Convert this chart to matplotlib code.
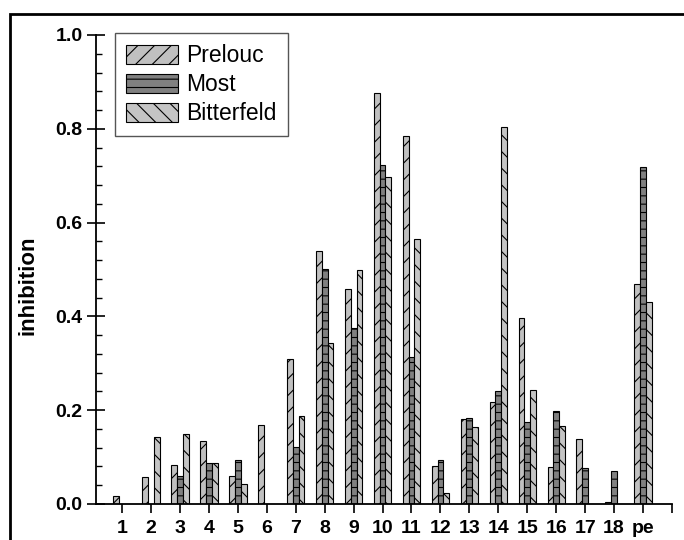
import matplotlib.pyplot as plt
import numpy as np
from matplotlib.patches import Rectangle
from matplotlib.ticker import MultipleLocator, FormatStrFormatter

plt.rcParams["font.family"] = ["Liberation Sans", "DejaVu Sans"]
plt.rcParams["hatch.linewidth"] = 0.8

# sample sites on the x axis
samples = [str(i) for i in range(1, 19)] + ["pe"]

# inhibition per site
prelouc = [0.016, 0.058, 0.083, 0.135, 0.059, 0.168, 0.309, 0.540, 0.459, 0.877,
           0.785, 0.080, 0.181, 0.217, 0.397, 0.078, 0.139, 0.005, 0.470]
most = [0.0, 0.0, 0.059, 0.087, 0.093, 0.0, 0.122, 0.501, 0.375, 0.723,
        0.314, 0.093, 0.183, 0.241, 0.175, 0.198, 0.076, 0.070, 0.719]
bitterfeld = [0.0, 0.142, 0.150, 0.087, 0.042, 0.0, 0.188, 0.344, 0.499, 0.697,
              0.566, 0.023, 0.164, 0.804, 0.243, 0.166, 0.0, 0.0, 0.430]

fig = plt.figure(figsize=(6.84, 5.4), dpi=100)
ax = fig.add_axes((96 / 684, 36 / 540, 576 / 684, 469 / 540))

x = np.arange(1, len(samples) + 1)
w = 0.2
series = [
    ("Prelouc", prelouc, "#c0c0c0", "//"),
    ("Most", most, "#808080", "--"),
    ("Bitterfeld", bitterfeld, "#c4c4c4", "\\\\"),
]
for k, (name, vals, color, hatch) in enumerate(series):
    ax.bar(x + (k - 1) * w, vals, width=w, color=color, edgecolor="black",
           linewidth=0.8, hatch=hatch, label=name, zorder=2)

ax.set_xlim(0.1, 20)
ax.set_ylim(0, 1.0)

ax.set_xticks(list(x) + [20])
ax.set_xticklabels(samples + [""])
ax.yaxis.set_major_locator(MultipleLocator(0.2))
ax.yaxis.set_minor_locator(MultipleLocator(0.04))
ax.yaxis.set_major_formatter(FormatStrFormatter("%.1f"))

for s in ["top", "right"]:
    ax.spines[s].set_visible(False)
for s in ["left", "bottom"]:
    ax.spines[s].set_linewidth(1.3)

ax.tick_params(axis="x", direction="out", length=6.5, width=1.2, pad=5,
               labelsize=14)
ax.tick_params(axis="y", which="major", direction="inout", length=13.5,
               width=1.2, pad=3, labelsize=14)
ax.tick_params(axis="y", which="minor", direction="in", length=4.3, width=1.0)
for lab in ax.get_xticklabels() + ax.get_yticklabels():
    lab.set_fontweight("bold")

ax.set_ylabel("inhibition", fontsize=16, fontweight="bold")
ax.yaxis.set_label_coords(-0.1, 0.467)

leg = ax.legend(loc="upper left", bbox_to_anchor=(115 / 684, 1 - 33 / 540),
                bbox_transform=fig.transFigure, borderaxespad=0, fontsize=16.5,
                fancybox=False, framealpha=1, edgecolor="#555555",
                borderpad=0.5, labelspacing=0.25, handlelength=2.25,
                handleheight=0.9, handletextpad=0.35)
leg.get_frame().set_linewidth(1.0)

# outer frame around the figure
fig.add_artist(Rectangle((9.5 / 684, -0.1), 1.2, 1 - 13.5 / 540 + 0.1,
                         transform=fig.transFigure, fill=False,
                         edgecolor="black", linewidth=2.0))

fig.savefig("out.png", dpi=100)
